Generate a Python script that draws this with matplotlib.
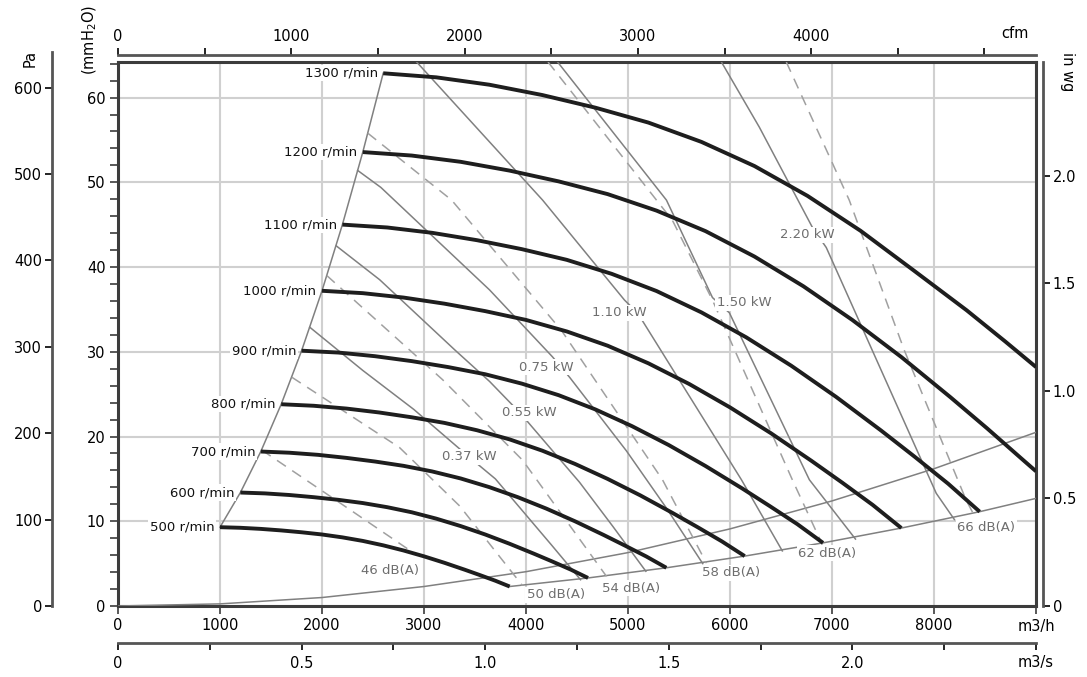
import matplotlib
matplotlib.use("Agg")
import matplotlib.pyplot as plt
from matplotlib.ticker import MultipleLocator

# values: flow in m3/h, static pressure in mmH2O
speeds = [500, 600, 700, 800, 900, 1000, 1100, 1200, 1300]

q500 = [1000, 1200, 1400, 1600, 1800, 2000, 2200, 2400, 2600, 2800, 3000, 3200, 3400, 3550, 3700, 3840]
p500 = [9.30, 9.23, 9.10, 8.92, 8.70, 8.44, 8.10, 7.68, 7.16, 6.55, 5.86, 5.10, 4.28, 3.64, 2.98, 2.30]
q600 = [1200, 1440, 1680, 1920, 2160, 2400, 2640, 2880, 3120, 3360, 3600, 3840, 4080, 4260, 4440, 4608]
p600 = [13.39, 13.29, 13.10, 12.84, 12.53, 12.15, 11.66, 11.06, 10.31, 9.43, 8.44, 7.34, 6.16, 5.24, 4.29, 3.31]
q700 = [1400, 1680, 1960, 2240, 2520, 2800, 3080, 3360, 3640, 3920, 4200, 4480, 4760, 4970, 5180, 5376]
p700 = [18.23, 18.09, 17.84, 17.48, 17.05, 16.54, 15.88, 15.05, 14.03, 12.84, 11.49, 10.00, 8.39, 7.13, 5.84, 4.51]
q800 = [1600, 1920, 2240, 2560, 2880, 3200, 3520, 3840, 4160, 4480, 4800, 5120, 5440, 5680, 5920, 6144]
p800 = [23.81, 23.63, 23.30, 22.84, 22.27, 21.61, 20.74, 19.66, 18.33, 16.77, 15.00, 13.06, 10.96, 9.32, 7.63, 5.89]
q900 = [1800, 2160, 2520, 2880, 3240, 3600, 3960, 4320, 4680, 5040, 5400, 5760, 6120, 6390, 6660, 6912]
p900 = [30.13, 29.91, 29.48, 28.90, 28.19, 27.35, 26.24, 24.88, 23.20, 21.22, 18.99, 16.52, 13.87, 11.79, 9.66, 7.45]
q1000 = [2000, 2400, 2800, 3200, 3600, 4000, 4400, 4800, 5200, 5600, 6000, 6400, 6800, 7100, 7400, 7680]
p1000 = [37.2, 36.92, 36.4, 35.68, 34.8, 33.76, 32.4, 30.72, 28.64, 26.2, 23.44, 20.4, 17.12, 14.56, 11.92, 9.2]
q1100 = [2200, 2640, 3080, 3520, 3960, 4400, 4840, 5280, 5720, 6160, 6600, 7040, 7480, 7810, 8140, 8448]
p1100 = [45.01, 44.67, 44.04, 43.17, 42.11, 40.85, 39.20, 37.17, 34.65, 31.70, 28.36, 24.68, 20.72, 17.62, 14.42, 11.13]
q1200 = [2400, 2880, 3360, 3840, 4320, 4800, 5280, 5760, 6240, 6720, 7200, 7680, 8160, 8520, 8880, 9000]
p1200 = [53.57, 53.16, 52.42, 51.38, 50.11, 48.61, 46.66, 44.24, 41.24, 37.73, 33.75, 29.38, 24.65, 20.97, 17.16, 15.9]
q1300 = [2600, 3120, 3640, 4160, 4680, 5200, 5720, 6240, 6760, 7280, 7800, 8320, 8700, 9000]
p1300 = [62.87, 62.39, 61.52, 60.30, 58.81, 57.05, 54.77, 51.92, 48.40, 44.28, 39.61, 34.9, 31.2, 28.2]

# limit line through the start of the curves
q_start = [1000, 1200, 1400, 1600, 1800, 2000, 2200, 2400, 2600]
p_start = [9.3, 13.39, 18.23, 23.81, 30.13, 37.2, 45.01, 53.57, 62.87]

# limit line through the end of the curves
q_end = [3840, 4608, 5376, 6144, 6912, 7680, 8448, 9000]
p_end = [2.3, 3.31, 4.51, 5.89, 7.45, 9.2, 11.13, 12.7]

# system curve from the origin
q_sys = [0, 1000, 2000, 3000, 4000, 5000, 6000, 7000, 8000, 9000]
p_sys = [0, 0.25, 1.0, 2.3, 4.05, 6.3, 9.1, 12.4, 16.2, 20.5]

# absorbed power lines
power_labels = ["0.37 kW", "0.55 kW", "0.75 kW", "1.10 kW", "1.50 kW", "2.20 kW"]
q_037 = [1880, 2400, 2900, 3450, 3700, 4250, 4535]
p_037 = [32.9, 27.8, 23.2, 17.5, 15.0, 7.2, 3.1]
q_055 = [2140, 2566, 3304, 3643, 3941, 4525, 4851, 5175]
p_055 = [42.5, 38.5, 30.2, 26.5, 22.8, 14.6, 9.4, 4.1]
q_075 = [2350, 2577, 3643, 4260, 4427, 4985, 5380, 5733]
p_075 = [51.4, 49.4, 37.3, 29.4, 27.0, 18.3, 11.5, 5.0]
q_110 = [2928, 4163, 4966, 5093, 6112, 6513]
p_110 = [64.2, 47.9, 36.1, 34.6, 14.9, 6.5]
q_150 = [4310, 5377, 5828, 5994, 6778, 7230]
p_150 = [64.2, 47.9, 36.4, 34.6, 14.9, 7.9]
q_220 = [5916, 6288, 6807, 6944, 8022, 8200]
p_220 = [64.2, 56.5, 44.7, 42.3, 13.3, 10.2]

# sound level lines
sound_labels = ["46 dB(A)", "50 dB(A)", "54 dB(A)", "58 dB(A)", "62 dB(A)", "66 dB(A)"]
q_46 = [1410, 2270, 2930]
p_46 = [18.4, 11.4, 6.0]
q_50 = [1704, 2760, 3350, 3966]
p_50 = [27.0, 18.7, 11.8, 2.4]
q_54 = [2047, 3183, 3967, 4789]
p_54 = [39.0, 26.7, 17.2, 3.5]
q_58 = [2449, 3271, 4349, 5338, 5769]
p_58 = [55.8, 47.9, 32.5, 14.9, 5.06]
q_62 = [4216, 5436, 5828, 6611, 6905]
p_62 = [64.2, 45.5, 36.1, 14.9, 7.25]
q_66 = [6552, 7169, 7708, 8315, 8394]
p_66 = [64.2, 47.9, 30.2, 12.5, 10.7]

W, H = 1087, 677
fig = plt.figure(figsize=(W / 100, H / 100), dpi=100)


def px_box(left, top, right, bottom):
    return [left / W, 1 - bottom / H, (right - left) / W, (bottom - top) / H]


X0, X1, Y0, Y1 = 118, 1036, 62, 606
QMAX, PMAX = 9000, 64.2
mm_per_px = PMAX / (Y1 - Y0)
frame_col = "#3c3c3c"
thin_col = "#808080"
text_col = "#6e6e6e"
label_box = dict(boxstyle="square,pad=0.12", fc="white", ec="none")

ax = fig.add_axes(px_box(X0, Y0, X1, Y1))
ax.set_xlim(0, QMAX)
ax.set_ylim(0, PMAX)
ax.grid(True, color="#d0d0d0", lw=1.5)
ax.set_axisbelow(True)
for s in ax.spines.values():
    s.set_linewidth(2.2)
    s.set_color(frame_col)

ax.set_xticks(range(0, 9001, 1000))
ax.set_xticklabels([str(v) for v in range(0, 8001, 1000)] + ["m3/h"])
ax.yaxis.set_major_locator(MultipleLocator(10))
ax.yaxis.set_minor_locator(MultipleLocator(2))
ax.tick_params(which="both", direction="out", length=6, width=1.2,
               color=frame_col, labelsize=10.5, pad=3)

# thin lines: limits and system curve
ax.plot(q_start, p_start, color=thin_col, lw=1.1, zorder=3)
ax.plot(q_end, p_end, color=thin_col, lw=1.1, zorder=3)
ax.plot(q_sys, p_sys, color=thin_col, lw=1.1, zorder=3)

# power lines and labels
power_lines = [(q_037, p_037), (q_055, p_055), (q_075, p_075),
               (q_110, p_110), (q_150, p_150), (q_220, p_220)]
power_pos = [(3448, 17.6), (4035, 22.8), (4202, 28.2),
             (4917, 34.6), (6141, 35.8), (6758, 43.8)]
for (q, p), lab, pos in zip(power_lines, power_labels, power_pos):
    ax.plot(q, p, color=thin_col, lw=1.1, zorder=3)
    ax.text(pos[0], pos[1], lab, color=text_col, fontsize=9.5,
            ha="center", va="center", zorder=4, bbox=label_box)

# sound lines and labels
sound_lines = [(q_46, p_46), (q_50, p_50), (q_54, p_54),
               (q_58, p_58), (q_62, p_62), (q_66, p_66)]
sound_pos = [(2664, 4.2), (4290, 1.3), (5034, 2.1),
             (6014, 3.9), (6954, 6.25), (8511, 9.3)]
for (q, p), lab, pos in zip(sound_lines, sound_labels, sound_pos):
    ax.plot(q, p, color="#a0a0a0", lw=1.1, dashes=(7, 5), zorder=3)
    ax.text(pos[0], pos[1], lab, color=text_col, fontsize=9.5,
            ha="center", va="center", zorder=4, bbox=label_box)

# fan curves
fan_curves = [(q500, p500), (q600, p600), (q700, p700), (q800, p800),
              (q900, p900), (q1000, p1000), (q1100, p1100), (q1200, p1200),
              (q1300, p1300)]
for n, (q, p) in zip(speeds, fan_curves):
    ax.plot(q, p, color="#1e1e1e", lw=2.8, solid_capstyle="butt",
            solid_joinstyle="round", zorder=6)
    ax.annotate(f"{n} r/min", (q[0], p[0]), xytext=(-4, 0),
                textcoords="offset points", ha="right", va="center",
                fontsize=9.5, color="#111111", zorder=5, bbox=label_box)


def side_axis(box):
    a = fig.add_axes(box)
    a.patch.set_visible(False)
    for s in a.spines.values():
        s.set_visible(False)
    return a


# Pa scale on the far left
ax_pa = side_axis(px_box(52, 52, 60, Y1))
ax_pa.set_ylim(0, mm_per_px * (Y1 - 52) * 9.80665)
ax_pa.spines["left"].set_visible(True)
ax_pa.spines["left"].set_linewidth(2)
ax_pa.spines["left"].set_color("#555555")
ax_pa.set_xticks([])
ax_pa.set_yticks(range(0, 601, 100))
ax_pa.tick_params(direction="out", length=5, width=1.2, labelsize=10.5, pad=2)

# in wg scale on the right
ax_in = side_axis(px_box(1000, Y0, 1043, Y1))
ax_in.set_ylim(0, PMAX / 25.4)
ax_in.spines["right"].set_visible(True)
ax_in.spines["right"].set_linewidth(2)
ax_in.spines["right"].set_color("#555555")
ax_in.yaxis.tick_right()
ax_in.set_xticks([])
ax_in.set_yticks([0, 0.5, 1.0, 1.5, 2.0])
ax_in.set_yticklabels(["0", "0.5", "1.0", "1.5", "2.0"])
ax_in.tick_params(direction="out", length=5, width=1.2, labelsize=10.5, pad=2)

# cfm scale on top
ax_cfm = side_axis(px_box(X0, 55, X1, 70))
ax_cfm.set_xlim(0, QMAX / 1.699)
ax_cfm.spines["top"].set_visible(True)
ax_cfm.spines["top"].set_linewidth(2)
ax_cfm.spines["top"].set_color("#555555")
ax_cfm.xaxis.tick_top()
ax_cfm.set_yticks([])
ax_cfm.set_xticks(range(0, 5001, 500))
ax_cfm.set_xticklabels(["0", "", "1000", "", "2000", "", "3000", "", "4000", "", ""])
ax_cfm.tick_params(direction="out", length=5, width=1.2, labelsize=10.5, pad=3)
fig.text(1015 / W, 1 - 34 / H, "cfm", ha="center", va="center", fontsize=10.5)

# m3/s scale at the bottom
ax_s = side_axis(px_box(X0, 600, X1, 643))
ax_s.set_xlim(0, QMAX / 3600)
ax_s.spines["bottom"].set_visible(True)
ax_s.spines["bottom"].set_linewidth(2)
ax_s.spines["bottom"].set_color("#555555")
ax_s.set_yticks([])
ax_s.set_xticks([i * 0.25 for i in range(11)])
ax_s.set_xticklabels(["0", "", "0.5", "", "1.0", "", "1.5", "", "2.0", "", "m3/s"])
ax_s.tick_params(direction="out", length=5, width=1.2, labelsize=10.5, pad=4)

# unit labels
fig.text(30 / W, 1 - 58 / H, "Pa", rotation=90, ha="center", va="center", fontsize=10.5)
fig.text(90 / W, 1 - 40 / H, "(mmH$_2$O)", rotation=90, ha="center", va="center", fontsize=10.5)
fig.text(1068 / W, 1 - 72 / H, "in wg", rotation=270, ha="center", va="center", fontsize=10.5)

fig.savefig("out.png", dpi=100)
